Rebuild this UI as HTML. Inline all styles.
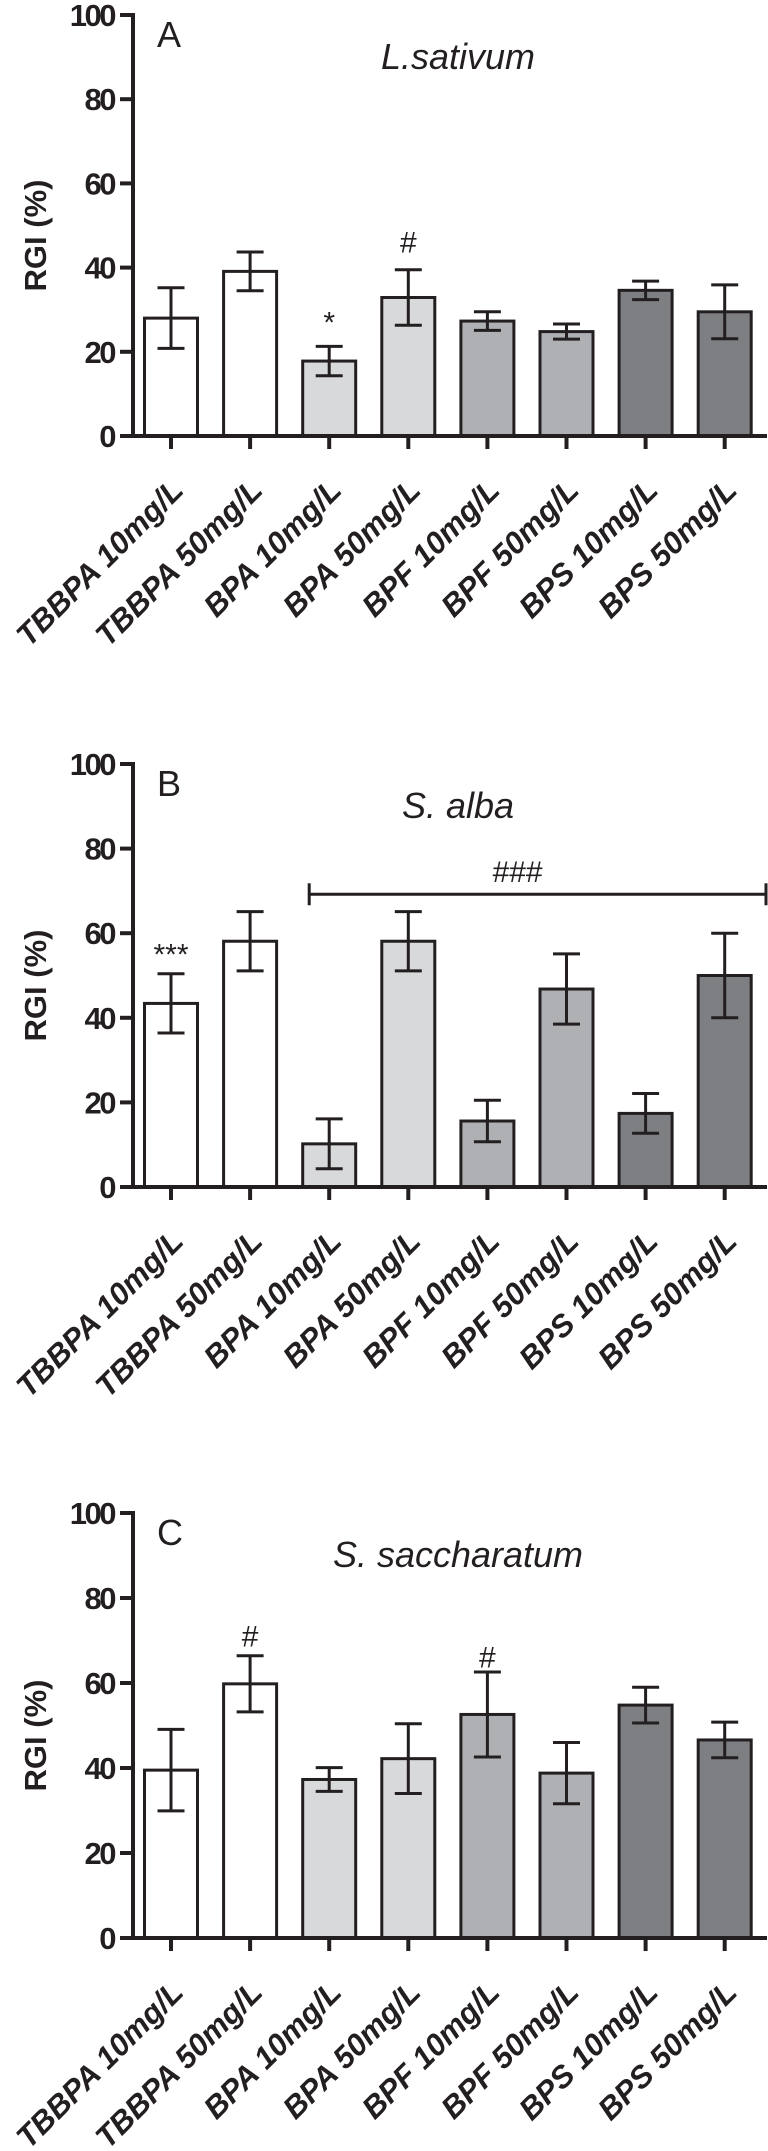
<!DOCTYPE html>
<html><head><meta charset="utf-8"><style>
html,body{margin:0;padding:0;background:#fff;width:768px;height:2151px;overflow:hidden}
svg{display:block}
text{font-family:"Liberation Sans",Arial,sans-serif}
</style></head><body>
<svg id="fig" width="768" height="2151" viewBox="0 0 768 2151" xmlns="http://www.w3.org/2000/svg"></svg>
<script>
const categories = ["TBBPA 10mg/L","TBBPA 50mg/L","BPA 10mg/L","BPA 50mg/L","BPF 10mg/L","BPF 50mg/L","BPS 10mg/L","BPS 50mg/L"];
const yTicks = [0,20,40,60,80,100];
const valuesA = [28.0,39.1,17.8,32.9,27.3,24.8,34.6,29.5];
const errA    = [7.2,4.6,3.5,6.6,2.2,1.8,2.2,6.4];
const valuesB = [43.4,58.1,10.2,58.1,15.6,46.8,17.4,50.0];
const errB    = [7.0,7.0,5.9,7.0,4.9,8.3,4.7,10.0];
const valuesC = [39.5,59.8,37.3,42.2,52.6,38.8,54.8,46.6];
const errC    = [9.6,6.6,2.8,8.2,10.0,7.2,4.2,4.2];
const barColors = ["#ffffff","#ffffff","#d8d9db","#d8d9db","#afb0b3","#afb0b3","#7e7f83","#7e7f83"];

const NS="http://www.w3.org/2000/svg";
const svg=document.getElementById('fig');
function mk(tag,attrs,parent){const e=document.createElementNS(NS,tag);for(const k in attrs)e.setAttribute(k,attrs[k]);(parent||svg).appendChild(e);return e;}

const panels=[
 {id:'a',letter:'A',title:'L.sativum',y0:436,y100:15,vals:valuesA,errs:errA,
  marks:[{i:2,v:27,t:'*'},{i:3,v:46,t:'#'}]},
 {id:'b',letter:'B',title:'S. alba',y0:1187,y100:764,vals:valuesB,errs:errB,
  marks:[{i:0,v:55,t:'***'}],bracket:{from:2,v:69.2,tv:73,t:'###'}},
 {id:'c',letter:'C',title:'S. saccharatum',y0:1938,y100:1513,vals:valuesC,errs:errC,
  marks:[{i:1,v:71,t:'#'},{i:4,v:66,t:'#'}]}
];
const axisX=133, firstX=171, step=79.1, barW=53;
function xPos(i){return firstX+i*step;}

panels.forEach(p=>{
  const g=mk('g',{});
  
  
  const yS=v=>p.y0-(p.y0-p.y100)*v/100;
  p.vals.forEach((v,i)=>{
    const cx=xPos(i);
    const r=mk('rect',{x:cx-barW/2,y:yS(v),width:barW,height:p.y0-yS(v),fill:barColors[i],stroke:'#231f20','stroke-width':3},g);
    
    
    const e=p.errs[i];
    const eg=mk('g',{stroke:'#231f20','stroke-width':3},g);
    
    
    mk('line',{x1:cx,x2:cx,y1:yS(v+e),y2:yS(v-e)},eg);
    mk('line',{x1:cx-13.5,x2:cx+13.5,y1:yS(v+e),y2:yS(v+e)},eg);
    mk('line',{x1:cx-13.5,x2:cx+13.5,y1:yS(v-e),y2:yS(v-e)},eg);
    mk('line',{x1:cx,x2:cx,y1:p.y0,y2:p.y0+13,stroke:'#231f20','stroke-width':4},g);
    const t=mk('text',{x:0,y:0,'text-anchor':'end','font-size':31,'font-weight':'bold','font-style':'italic',fill:'#231f20',transform:`translate(${cx+14},${p.y0+56}) rotate(-45)`},g);
    t.textContent=categories[i];
    
    
  });
  const ya=mk('line',{x1:axisX,x2:axisX,y1:p.y100-2,y2:p.y0+2,stroke:'#231f20','stroke-width':4},g);
  
  
  const xa=mk('line',{x1:121,x2:767,y1:p.y0,y2:p.y0,stroke:'#231f20','stroke-width':4},g);
  
  
  yTicks.forEach(v=>{
    mk('line',{x1:120,x2:axisX,y1:yS(v),y2:yS(v),stroke:'#231f20','stroke-width':4},g);
    const t=mk('text',{x:114,y:yS(v)+11,'text-anchor':'end','font-size':31,'font-weight':'bold',fill:'#231f20','letter-spacing':'-2.5'},g);
    t.textContent=v;
    
    
  });
  const yl=mk('text',{x:0,y:0,'text-anchor':'middle','font-size':31,'font-weight':'bold',fill:'#231f20',transform:`translate(46,${(p.y0+p.y100)/2+10}) rotate(-90)`},g);
  yl.textContent='RGI (%)';
  
  
  const L=mk('text',{x:157,y:p.y100+32,'font-size':36,fill:'#231f20'},g);
  L.textContent=p.letter;
  
  
  const T=mk('text',{x:458,y:p.y100+54,'text-anchor':'middle','font-size':36,'font-style':'italic',fill:'#231f20'},g);
  T.textContent=p.title;
  
  
  p.marks.forEach(m=>{
    const t=mk('text',{x:xPos(m.i),y:yS(m.v)+10,'text-anchor':'middle','font-size':30,fill:'#231f20'},g);
    t.textContent=m.t;
    
    
  });
  if(p.bracket){
    const b=p.bracket, y=yS(b.v), x1=xPos(b.from)-20;
    const bg=mk('g',{stroke:'#231f20','stroke-width':3},g);
    
    
    mk('line',{x1:x1,x2:766,y1:y,y2:y},bg);
    mk('line',{x1:x1,x2:x1,y1:y-11,y2:y+11},bg);
    mk('line',{x1:766,x2:766,y1:y-11,y2:y+11},bg);
    const t=mk('text',{x:(x1+766)/2-20,y:yS(b.tv)+4,'text-anchor':'middle','font-size':30,fill:'#231f20'},g);
    t.textContent=b.t;
    
    
  }
});
</script>
</body></html>
